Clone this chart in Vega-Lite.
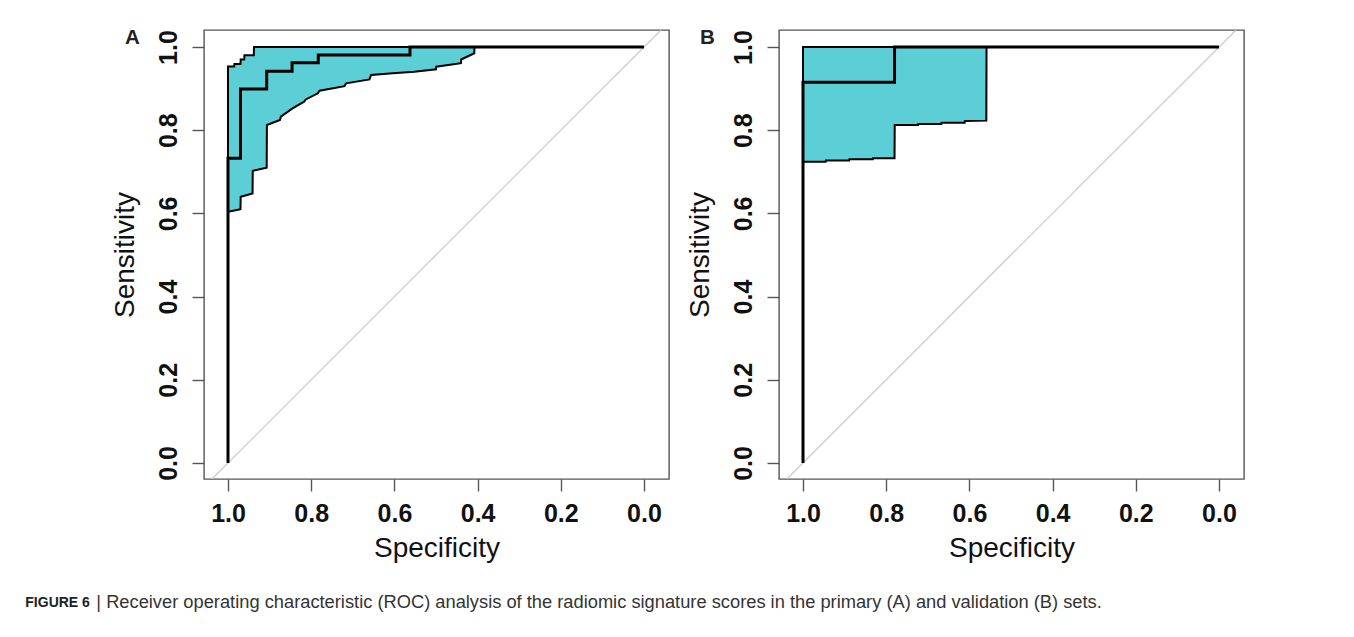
{
  "$schema": "https://vega.github.io/schema/vega-lite/v6.json",
  "background": "white",
  "padding": {"left": 25, "top": 27, "right": 5, "bottom": 5},
  "config": {
    "font": "Liberation Sans",
    "view": {"stroke": "#555555", "strokeWidth": 1.4},
    "axis": {
      "grid": false, "domain": false,
      "tickColor": "#555555", "tickWidth": 1.4, "tickSize": 12,
      "labelFont": "Liberation Sans", "labelFontWeight": "bold", "labelFontSize": 25, "labelColor": "#111111",
      "labelFlush": false, "labelOverlap": false, "labelBound": false,
      "titleFont": "Liberation Sans", "titleFontWeight": "normal", "titleFontSize": 28, "titleColor": "#111111"
    }
  },
  "title": {
    "text": "FIGURE 6", "orient": "bottom", "anchor": "start", "baseline": "top",
    "font": "Liberation Sans", "fontWeight": "bold", "fontSize": 14, "color": "#222222",
    "offset": 4, "dx": -71, "dy": -19.2
  },
  "datasets": {
    "bandA": [
      {"spec": 1.0, "lo": 0.604, "hi": 0.953},
      {"spec": 0.985, "lo": 0.607, "hi": 0.953},
      {"spec": 0.9845, "lo": 0.607, "hi": 0.959},
      {"spec": 0.970, "lo": 0.610, "hi": 0.959},
      {"spec": 0.9695, "lo": 0.640, "hi": 0.970},
      {"spec": 0.961, "lo": 0.6425, "hi": 0.970},
      {"spec": 0.9605, "lo": 0.6425, "hi": 0.980},
      {"spec": 0.941, "lo": 0.648, "hi": 0.980},
      {"spec": 0.9405, "lo": 0.702, "hi": 0.980},
      {"spec": 0.938, "lo": 0.703, "hi": 0.980},
      {"spec": 0.9375, "lo": 0.703, "hi": 1.0},
      {"spec": 0.907, "lo": 0.710, "hi": 1.0},
      {"spec": 0.9065, "lo": 0.8125, "hi": 1.0},
      {"spec": 0.875, "lo": 0.8245, "hi": 1.0},
      {"spec": 0.873, "lo": 0.8325, "hi": 1.0},
      {"spec": 0.845, "lo": 0.8526, "hi": 1.0},
      {"spec": 0.817, "lo": 0.8686, "hi": 1.0},
      {"spec": 0.813, "lo": 0.874, "hi": 1.0},
      {"spec": 0.784, "lo": 0.8886, "hi": 1.0},
      {"spec": 0.780, "lo": 0.895, "hi": 1.0},
      {"spec": 0.720, "lo": 0.906, "hi": 1.0},
      {"spec": 0.716, "lo": 0.9127, "hi": 1.0},
      {"spec": 0.660, "lo": 0.922, "hi": 1.0},
      {"spec": 0.656, "lo": 0.9327, "hi": 1.0},
      {"spec": 0.604, "lo": 0.9367, "hi": 1.0},
      {"spec": 0.552, "lo": 0.9407, "hi": 1.0},
      {"spec": 0.500, "lo": 0.9463, "hi": 1.0},
      {"spec": 0.4995, "lo": 0.9527, "hi": 1.0},
      {"spec": 0.440, "lo": 0.961, "hi": 1.0},
      {"spec": 0.4395, "lo": 0.970, "hi": 1.0},
      {"spec": 0.408, "lo": 0.985, "hi": 1.0},
      {"spec": 0.4075, "lo": 1.0, "hi": 1.0}
    ],
    "rocA": [
      {"i": 1, "spec": 1.0, "sens": 0.0},
      {"i": 2, "spec": 1.0, "sens": 0.7324},
      {"i": 3, "spec": 0.970, "sens": 0.7324},
      {"i": 4, "spec": 0.970, "sens": 0.899},
      {"i": 5, "spec": 0.907, "sens": 0.899},
      {"i": 6, "spec": 0.907, "sens": 0.942},
      {"i": 7, "spec": 0.846, "sens": 0.942},
      {"i": 8, "spec": 0.846, "sens": 0.962},
      {"i": 9, "spec": 0.783, "sens": 0.962},
      {"i": 10, "spec": 0.783, "sens": 0.981},
      {"i": 11, "spec": 0.5625, "sens": 0.981},
      {"i": 12, "spec": 0.5625, "sens": 1.0},
      {"i": 13, "spec": 0.0, "sens": 1.0}
    ],
    "bandB": [
      {"spec": 1.0, "lo": 0.724, "hi": 1.0},
      {"spec": 0.9455, "lo": 0.724, "hi": 1.0},
      {"spec": 0.945, "lo": 0.727, "hi": 1.0},
      {"spec": 0.889, "lo": 0.727, "hi": 1.0},
      {"spec": 0.8885, "lo": 0.730, "hi": 1.0},
      {"spec": 0.832, "lo": 0.730, "hi": 1.0},
      {"spec": 0.8315, "lo": 0.7325, "hi": 1.0},
      {"spec": 0.780, "lo": 0.7325, "hi": 1.0},
      {"spec": 0.7795, "lo": 0.8125, "hi": 1.0},
      {"spec": 0.7236, "lo": 0.8125, "hi": 1.0},
      {"spec": 0.7231, "lo": 0.815, "hi": 1.0},
      {"spec": 0.6676, "lo": 0.815, "hi": 1.0},
      {"spec": 0.6671, "lo": 0.818, "hi": 1.0},
      {"spec": 0.6114, "lo": 0.818, "hi": 1.0},
      {"spec": 0.6109, "lo": 0.822, "hi": 1.0},
      {"spec": 0.5593, "lo": 0.823, "hi": 1.0},
      {"spec": 0.5588, "lo": 1.0, "hi": 1.0}
    ],
    "rocB": [
      {"i": 1, "spec": 1.0, "sens": 0.0},
      {"i": 2, "spec": 1.0, "sens": 0.915},
      {"i": 3, "spec": 0.780, "sens": 0.915},
      {"i": 4, "spec": 0.780, "sens": 1.0},
      {"i": 5, "spec": 0.0, "sens": 1.0}
    ],
    "diag": [
      {"spec": 1.0385, "sens": -0.0385},
      {"spec": -0.041, "sens": 1.041}
    ]
  },
  "vconcat": [
    {
      "title": {
        "text": "| Receiver operating characteristic (ROC) analysis of the radiomic signature scores in the primary (A) and validation (B) sets.",
        "orient": "bottom", "anchor": "start", "baseline": "top",
        "font": "Liberation Sans", "fontWeight": "normal", "fontSize": 18.3, "color": "#333333",
        "offset": 31, "dx": -14
      },
      "spacing": 15,
      "hconcat": [
        {
          "width": 465, "height": 449,
          "layer": [
            {
              "data": {"name": "diag"},
              "mark": {"type": "line", "stroke": "#c8c8c8", "strokeWidth": 1.2, "clip": true},
              "encoding": {
                "x": {"field": "spec", "type": "quantitative",
                  "scale": {"domain": [-0.0601, 1.0577], "reverse": true, "nice": false, "zero": false},
                  "axis": {"values": [0, 0.2, 0.4, 0.6, 0.8, 1.0], "format": ".1f", "labelAngle": 0, "labelPadding": 10, "titlePadding": 8},
                  "title": "Specificity"},
                "y": {"field": "sens", "type": "quantitative",
                  "scale": {"domain": [-0.0385, 1.0409], "nice": false, "zero": false},
                  "axis": {"values": [0, 0.2, 0.4, 0.6, 0.8, 1.0], "format": ".1f", "labelAngle": -90, "labelAlign": "center", "labelBaseline": "alphabetic", "labelPadding": 16, "titlePadding": 17},
                  "title": "Sensitivity"}
              }
            },
            {
              "data": {"name": "bandA"},
              "mark": {"type": "area", "fill": "#5ccfd6", "stroke": "black", "strokeWidth": 2, "opacity": 1},
              "encoding": {
                "x": {"field": "spec", "type": "quantitative"},
                "y": {"field": "lo", "type": "quantitative"},
                "y2": {"field": "hi"}
              }
            },
            {
              "data": {"name": "rocA"},
              "mark": {"type": "line", "stroke": "black", "strokeWidth": 3},
              "encoding": {
                "x": {"field": "spec", "type": "quantitative"},
                "y": {"field": "sens", "type": "quantitative"},
                "order": {"field": "i", "type": "quantitative"}
              }
            },
            {
              "data": {"values": [{"spec": 1.23, "sens": 1.007, "label": "A"}]},
              "mark": {"type": "text", "fontSize": 20.5, "fontWeight": "bold", "align": "center", "baseline": "alphabetic", "color": "#222222"},
              "encoding": {
                "x": {"field": "spec", "type": "quantitative"},
                "y": {"field": "sens", "type": "quantitative"},
                "text": {"field": "label"}
              }
            }
          ]
        },
        {
          "width": 465, "height": 449,
          "layer": [
            {
              "data": {"name": "diag"},
              "mark": {"type": "line", "stroke": "#c8c8c8", "strokeWidth": 1.2, "clip": true},
              "encoding": {
                "x": {"field": "spec", "type": "quantitative",
                  "scale": {"domain": [-0.0601, 1.0577], "reverse": true, "nice": false, "zero": false},
                  "axis": {"values": [0, 0.2, 0.4, 0.6, 0.8, 1.0], "format": ".1f", "labelAngle": 0, "labelPadding": 10, "titlePadding": 8},
                  "title": "Specificity"},
                "y": {"field": "sens", "type": "quantitative",
                  "scale": {"domain": [-0.0385, 1.0409], "nice": false, "zero": false},
                  "axis": {"values": [0, 0.2, 0.4, 0.6, 0.8, 1.0], "format": ".1f", "labelAngle": -90, "labelAlign": "center", "labelBaseline": "alphabetic", "labelPadding": 16, "titlePadding": 17},
                  "title": "Sensitivity"}
              }
            },
            {
              "data": {"name": "bandB"},
              "mark": {"type": "area", "fill": "#5ccfd6", "stroke": "black", "strokeWidth": 2, "opacity": 1},
              "encoding": {
                "x": {"field": "spec", "type": "quantitative"},
                "y": {"field": "lo", "type": "quantitative"},
                "y2": {"field": "hi"}
              }
            },
            {
              "data": {"name": "rocB"},
              "mark": {"type": "line", "stroke": "black", "strokeWidth": 3},
              "encoding": {
                "x": {"field": "spec", "type": "quantitative"},
                "y": {"field": "sens", "type": "quantitative"},
                "order": {"field": "i", "type": "quantitative"}
              }
            },
            {
              "data": {"values": [{"spec": 1.23, "sens": 1.007, "label": "B"}]},
              "mark": {"type": "text", "fontSize": 20.5, "fontWeight": "bold", "align": "center", "baseline": "alphabetic", "color": "#222222"},
              "encoding": {
                "x": {"field": "spec", "type": "quantitative"},
                "y": {"field": "sens", "type": "quantitative"},
                "text": {"field": "label"}
              }
            }
          ]
        }
      ]
    }
  ]
}
